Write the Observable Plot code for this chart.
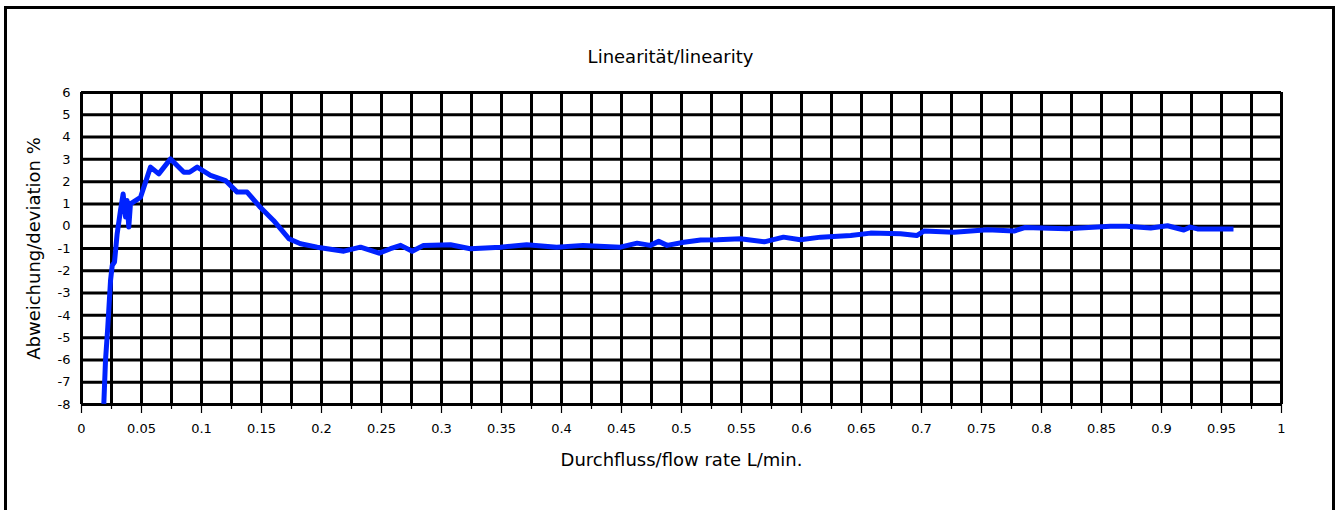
<!DOCTYPE html>
<html>
<head>
<meta charset="utf-8">
<script src="https://cdn.jsdelivr.net/npm/d3@7"></script>
<script src="https://cdn.jsdelivr.net/npm/@observablehq/plot@0.6"></script>
<style>
  html, body { margin: 0; padding: 0; background: #fff; }
  #wrap { position: relative; width: 1338px; height: 510px; overflow: hidden; }
  #frame { position: absolute; left: 4px; top: 6px; width: 1325px; height: 600px; border: 3px solid #000; }
  #chart { position: absolute; left: 0; top: 0; }
</style>
</head>
<body>
<div id="wrap"><div id="frame"></div><div id="chart"></div></div>
<script>
const flowRate = [0.0186,0.0200,0.0219,0.0242,0.0256,0.0275,0.0297,0.0325,0.0347,0.0367,0.0380,0.0394,0.0408,0.0450,0.0492,0.0575,0.0644,0.0742,0.0853,0.0900,0.0964,0.1075,0.1200,0.1297,0.1380,0.1490,0.1600,0.1728,0.1825,0.1964,0.2186,0.2325,0.2480,0.2575,0.2660,0.2756,0.2850,0.3075,0.3240,0.3490,0.3710,0.3960,0.4180,0.4490,0.4630,0.4740,0.4810,0.4880,0.5020,0.5160,0.5300,0.5490,0.5690,0.5850,0.5990,0.6160,0.6410,0.6575,0.6825,0.6960,0.7020,0.7270,0.7550,0.7770,0.7860,0.8210,0.8575,0.8710,0.8910,0.9050,0.9186,0.9240,0.9300,0.9600];
const deviation = [-7.97,-6.02,-4.53,-2.43,-1.76,-1.61,-0.34,0.71,1.45,0.41,1.15,-0.04,1.0,1.15,1.30,2.65,2.35,3.02,2.42,2.42,2.65,2.28,2.05,1.53,1.53,0.85,0.26,-0.56,-0.79,-0.94,-1.12,-0.94,-1.21,-1.01,-0.86,-1.12,-0.86,-0.83,-1.01,-0.94,-0.83,-0.94,-0.86,-0.94,-0.76,-0.86,-0.68,-0.86,-0.72,-0.62,-0.61,-0.56,-0.70,-0.49,-0.61,-0.49,-0.42,-0.31,-0.34,-0.42,-0.22,-0.27,-0.16,-0.22,-0.06,-0.11,0.0,0.0,-0.08,0.02,-0.17,-0.04,-0.12,-0.13];
const xLabelTicks = [0,0.05,0.1,0.15,0.2,0.25,0.3,0.35,0.4,0.45,0.5,0.55,0.6,0.65,0.7,0.75,0.8,0.85,0.9,0.95,1];
const xMinorTicks = [0.025,0.075,0.125,0.175,0.225,0.275,0.325,0.375,0.425,0.475,0.525,0.575,0.625,0.675,0.725,0.775,0.825,0.875,0.925,0.975];
const yTicks = [-8,-7,-6,-5,-4,-3,-2,-1,0,1,2,3,4,5,6];
const title = "Linearität/linearity";
const xTitle = "Durchfluss/flow rate L/min.";
const yTitle = "Abweichung/deviation %";

const data = flowRate.map((x, i) => ({x, y: deviation[i]}));
const gridX = xLabelTicks.concat(xMinorTicks);
const font = "'DejaVu Sans', sans-serif";

const plot = Plot.plot({
  width: 1338,
  height: 510,
  marginLeft: 81,
  marginRight: 57,
  marginTop: 92,
  marginBottom: 106,
  style: {background: "transparent", fontFamily: font, fontSize: "13px", color: "#000"},
  x: {domain: [0, 1], label: null},
  y: {domain: [-8, 6], label: null, axis: null},
  marks: [
    Plot.ruleX(gridX, {stroke: "#000", strokeWidth: 3}),
    Plot.ruleY(yTicks, {stroke: "#000", strokeWidth: 3}),
    Plot.axisX(xLabelTicks, {tickSize: 9, strokeWidth: 1.2, text: null, label: null}),
    Plot.axisX(xMinorTicks, {tickSize: 5, strokeWidth: 1.2, text: null, label: null}),
    Plot.text(xLabelTicks, {x: d => d, frameAnchor: "bottom", dy: 24, lineAnchor: "middle", fontSize: 13, fill: "#000", text: d => String(d)}),
    Plot.text(yTicks, {y: d => d, frameAnchor: "left", dx: -11, textAnchor: "end", lineAnchor: "middle", fontSize: 13, fill: "#000", text: d => String(d)}),
    Plot.line(data, {x: "x", y: "y", stroke: "#0022ff", strokeWidth: 5, strokeLinejoin: "round", strokeLinecap: "butt"}),
    Plot.text([title], {frameAnchor: "top", dx: -11, dy: -35, lineAnchor: "middle", fontSize: 18, fill: "#000", text: d => d}),
    Plot.text([xTitle], {frameAnchor: "bottom", dy: 56, lineAnchor: "middle", fontSize: 18, fill: "#000", text: d => d}),
    Plot.text([yTitle], {frameAnchor: "left", dx: -47, rotate: -90, textAnchor: "middle", lineAnchor: "middle", fontSize: 18, fill: "#000", text: d => d})
  ]
});
document.getElementById("chart").appendChild(plot);
</script>
</body>
</html>
